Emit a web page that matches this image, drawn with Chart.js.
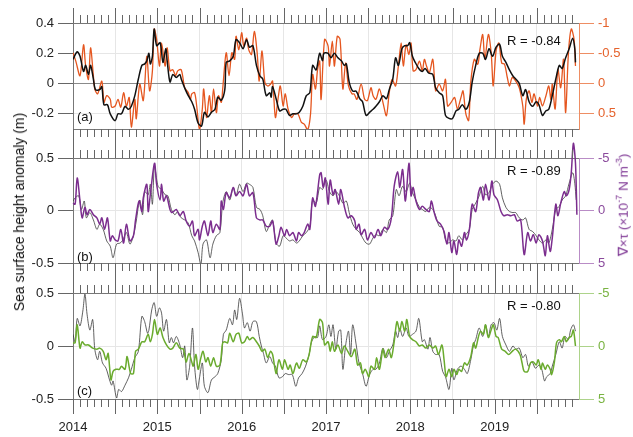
<!DOCTYPE html>
<html lang="en">
<head>
<meta charset="UTF-8">
<script src="https://cdn.jsdelivr.net/npm/chart.js@4.4.0/dist/chart.umd.min.js"></script>
<style>
  body { margin: 0; background: #fff; width: 633px; height: 437px; overflow: hidden; position: relative;
         font-family: "Liberation Sans", Arial, sans-serif; }
  .panel { position: absolute; left: 0; width: 633px; }
  .txt { position: absolute; font-size: 13px; color: #111; white-space: nowrap; transform: translate(0, -50%); }
  .rot { position: absolute; white-space: nowrap; transform: translate(-50%, -50%) rotate(-90deg); }
</style>
</head>
<body>
<div class="panel" style="top:0;height:145px"><canvas id="chart-a"></canvas></div>
<div class="panel" style="top:140px;height:145px"><canvas id="chart-b"></canvas></div>
<div class="panel" style="top:275px;height:162px"><canvas id="chart-c"></canvas></div>

<div class="rot" style="left:19px;top:212px;font-size:14px;color:#111">Sea surface height anomaly (m)</div>
<div class="rot" style="left:622px;top:205px;font-size:13.5px;color:#7d3593">&nabla;&times;&tau; (&times;10<sup style="font-size:9px">-7</sup> N m<sup style="font-size:9px">-3</sup>)</div>

<div class="txt" style="left:77px;top:116px">(a)</div>
<div class="txt" style="left:77px;top:256px">(b)</div>
<div class="txt" style="left:77px;top:390px">(c)</div>
<div class="txt" style="left:507px;top:40px">R = -0.84</div>
<div class="txt" style="left:507px;top:170px">R = -0.89</div>
<div class="txt" style="left:507px;top:305px">R = -0.80</div>

<script>
// x = months since Jan 2014
var firstYear = 2014;
var monthsShown = 72;

// tick labels
var yTicksA = [-0.2, 0, 0.2, 0.4];
var rTicksA = [-1, -0.5, 0, 0.5];
var yTicksBC = [-0.5, 0, 0.5];
var rTicksBC = [-5, 0, 5];

// (a) sea surface height (m) and curl (right axis, reversed)
var sshA = [[0,0.16],[0.6,0.21],[1,0.18],[1.5,0.08],[1.8,0.12],[2.2,0.06],[2.5,0.12],[2.9,0.03],[3.2,-0.04],[3.8,-0.04],[4.1,-0.02],[4.4,-0.14],[4.9,-0.14],[5.3,-0.2],[6,-0.245],[6.4,-0.2],[6.9,-0.2],[7.4,-0.15],[7.9,-0.17],[8.3,-0.15],[8.8,-0.08],[9.3,0.03],[9.8,0.12],[10.2,0.13],[10.5,0.15],[10.8,0.2],[11,0.13],[11.3,0.18],[11.55,0.36],[11.9,0.25],[12.4,0.27],[12.8,0.14],[13.2,0.23],[13.4,0.15],[13.8,0.01],[14.2,0.06],[14.7,0.04],[15.2,0.06],[15.4,0.03],[15.9,-0.03],[16.4,-0.08],[16.9,-0.12],[17.3,-0.17],[17.8,-0.26],[18.3,-0.28],[18.7,-0.19],[19.2,-0.22],[19.7,-0.19],[20.2,-0.17],[20.6,-0.09],[21.1,-0.11],[21.6,-0.04],[21.8,0.14],[22.3,0.15],[22.8,0.18],[23.2,0.29],[23.7,0.27],[24.2,0.23],[24.7,0.29],[25.1,0.24],[25.6,0.25],[26.1,0.12],[26.6,0.05],[27,0.03],[27.5,-0.08],[28,-0.06],[28.2,-0.09],[28.4,-0.02],[28.9,-0.1],[29.4,-0.18],[29.9,-0.17],[30.3,-0.17],[30.8,-0.21],[31.3,-0.2],[31.8,-0.2],[32.2,-0.19],[32.7,-0.15],[33.2,-0.08],[33.7,-0.06],[34.1,0.12],[34.6,0.09],[35.1,0.2],[35.5,0.15],[35.7,0.2],[36.3,0.2],[36.7,0.17],[37.2,0.2],[37.7,0.17],[38.2,0.15],[38.6,0.12],[38.9,0.13],[39.3,0.01],[39.8,-0.05],[40.3,-0.05],[40.8,-0.1],[41.2,-0.12],[41.7,-0.21],[42.2,-0.19],[42.7,-0.17],[43.1,-0.15],[43.6,-0.12],[44.1,-0.08],[44.6,-0.1],[45,-0.04],[45.5,0.03],[45.9,0.17],[46.3,0.12],[46.8,0.23],[47.2,0.25],[47.6,0.25],[47.9,0.27],[48.3,0.18],[48.7,0.14],[49.2,0.1],[49.7,0.08],[50.1,0.1],[50.6,0.07],[51.2,0.06],[51.6,-0.03],[52.1,-0.06],[52.6,-0.08],[53,-0.21],[53.5,-0.23],[54,-0.23],[54.5,-0.18],[54.9,-0.17],[55.4,-0.14],[55.9,-0.17],[56.4,-0.12],[56.8,0.01],[57.3,0.12],[57.8,0.2],[58.3,0.2],[58.7,0.16],[59.2,0.23],[59.7,0.18],[60.2,0.24],[60.7,0.26],[61.1,0.18],[61.6,0.14],[62.1,0.09],[62.6,0.05],[63,0.03],[63.5,0],[64,-0.08],[64.4,-0.04],[64.9,-0.12],[65.4,-0.15],[65.9,-0.12],[66.3,-0.14],[66.8,-0.21],[67.3,-0.18],[67.7,-0.17],[68.2,-0.08],[68.7,0.03],[69.2,0.12],[69.6,0.1],[70.1,0.17],[70.6,0.23],[71.1,0.3],[71.4,0.23],[71.5,0.14]];
var curlA = [[0,-0.51],[0.4,-0.37],[1,-0.13],[1.5,-0.64],[1.8,-0.29],[2.2,-0.07],[2.5,-0.59],[2.9,-0.13],[3.1,0.09],[3.5,0.17],[4.1,-0.04],[4.4,0.31],[4.8,0.2],[5.3,0.26],[5.5,0.39],[6,0.37],[6.4,0.26],[6.8,0.39],[7.2,0.15],[7.6,0.37],[8,0.23],[8.3,0.72],[8.8,0.26],[9,0.58],[9.5,0.01],[10,0.28],[10.5,-0.45],[10.9,0.12],[11.3,-0.21],[11.55,-0.9],[11.9,-0.73],[12.3,-0.29],[12.6,-0.67],[13.1,-0.29],[13.4,-0.59],[13.8,-0.21],[14.2,-0.23],[14.6,-0.13],[14.9,-0.21],[15.4,-0.23],[15.9,0.07],[16.4,0.15],[16.7,0.26],[16.9,0.17],[17.3,0.15],[17.6,0.37],[18,0.76],[18.4,0.42],[18.6,0.09],[19,0.56],[19.4,0.2],[19.7,0.48],[20,0.09],[20.4,0.48],[20.7,0.2],[21.1,0.31],[21.3,0.09],[21.8,-0.51],[22.2,-0.13],[22.6,-0.51],[23,-0.4],[23.2,-0.78],[23.6,-0.56],[24,-0.84],[24.3,-0.62],[24.7,-0.75],[25,-0.56],[25.4,-0.48],[25.8,-0.86],[26.2,-0.51],[26.5,-0.04],[26.9,-0.54],[27.3,-0.02],[27.7,0.04],[28.1,0.01],[28.4,-0.04],[28.8,0.56],[29.2,0.23],[29.5,0.04],[29.9,0.37],[30.2,0.17],[30.6,0.42],[31.1,0.56],[31.5,0.5],[32,0.5],[32.5,0.64],[32.9,0.67],[33.4,0.76],[33.8,0.5],[34.1,-0.15],[34.5,0.09],[34.8,-0.23],[35.1,-0.37],[35.3,0.26],[35.8,-0.73],[36.3,-0.62],[36.5,-0.29],[36.9,-0.7],[37.2,-0.29],[37.6,-0.78],[38,-0.73],[38.4,0.09],[38.8,-0.34],[39.2,0.04],[39.7,0.17],[40,0.17],[40.4,0.26],[41,0.01],[41.5,0.26],[41.9,0.28],[42.4,0.07],[42.7,0.2],[43.1,0.26],[43.6,0.09],[44.1,0.31],[44.6,0.53],[45,0.15],[45.4,-0.07],[45.9,0.04],[46.3,-0.29],[46.7,-0.67],[47,-0.29],[47.4,-0.64],[47.8,-0.48],[48.1,-0.67],[48.4,-0.21],[48.8,-0.23],[49.3,-0.37],[49.7,-0.21],[50,-0.4],[50.3,-0.29],[50.7,-0.18],[51.2,-0.4],[51.6,0.12],[52.1,0.01],[52.6,0.12],[53,-0.07],[53.3,0.37],[53.8,0.31],[54.3,0.23],[54.7,0.42],[55.2,0.23],[55.5,0.12],[55.9,0.5],[56.3,0.61],[56.6,-0.02],[57.1,-0.4],[57.6,-0.32],[57.9,-0.56],[58.3,-0.81],[58.6,-0.4],[59.1,-0.81],[59.5,-0.51],[59.8,0.04],[60.2,-0.54],[60.6,-0.67],[61,-0.34],[61.4,-0.32],[61.8,-0.1],[62.1,0.04],[62.5,-0.1],[63,-0.04],[63.5,0.07],[64,0.37],[64.2,0.67],[64.5,0.26],[64.9,0.12],[65.3,0.31],[65.6,0.17],[66.1,0.37],[66.4,0.23],[66.8,0.37],[67.3,0.2],[67.7,0.04],[68,0.26],[68.2,0.01],[68.6,0.42],[69,-0.23],[69.4,0.07],[69.8,-0.4],[70.1,0.48],[70.5,-0.51],[70.9,-0.9],[71.3,-0.73],[71.5,-0.29]];

// (b)
var sshB = [[0,0.09],[0.3,0.12],[0.8,0.14],[1.2,0.01],[1.6,0.09],[1.9,-0.07],[2.4,-0.02],[2.9,-0.09],[3.4,-0.18],[3.8,-0.13],[4.3,-0.18],[4.8,-0.29],[5.3,-0.34],[5.7,-0.45],[6.2,-0.32],[6.7,-0.31],[7.1,-0.28],[7.6,-0.21],[8.1,-0.32],[8.6,-0.24],[9,-0.1],[9.5,0.1],[9.9,-0.04],[10.2,0.18],[10.7,0.15],[11,0.25],[11.3,0.06],[11.6,0.42],[12.1,0.23],[12.6,0.2],[13.1,0.15],[13.5,0.14],[14,0.01],[14.5,-0.04],[14.9,-0.01],[15.4,-0.07],[15.9,-0.09],[16.4,-0.12],[16.9,-0.24],[17.3,-0.29],[17.8,-0.4],[18.2,-0.51],[18.5,-0.32],[19,-0.28],[19.5,-0.45],[19.9,-0.32],[20.4,-0.24],[20.9,-0.21],[21.3,0.07],[21.8,0.18],[22.3,0.1],[22.8,0.22],[23.2,0.14],[23.7,0.25],[24.2,0.18],[24.7,0.26],[25.1,0.25],[25.6,0.22],[26.1,0.03],[26.6,0.01],[27,-0.05],[27.5,-0.2],[28,-0.13],[28.4,-0.09],[28.9,-0.31],[29.4,-0.34],[29.9,-0.24],[30.3,-0.26],[30.8,-0.29],[31.3,-0.28],[31.8,-0.31],[32.2,-0.29],[32.7,-0.24],[33.2,-0.21],[33.7,-0.15],[34.1,0.1],[34.6,0.07],[35.1,0.22],[35.5,0.2],[36,0.29],[36.5,0.18],[37,0.14],[37.4,0.18],[37.9,0.14],[38.4,0.07],[38.9,0.09],[39.3,-0.02],[39.8,-0.13],[40.3,-0.18],[40.8,-0.21],[41.2,-0.26],[41.7,-0.31],[42.2,-0.32],[42.7,-0.26],[43.1,-0.23],[43.6,-0.24],[44.1,-0.18],[44.6,-0.21],[45,-0.09],[45.5,-0.05],[46,0.2],[46.4,0.14],[46.9,0.23],[47.4,0.18],[47.9,0.26],[48.3,0.17],[48.8,0.1],[49.3,0.03],[49.7,0.01],[50.2,-0.01],[50.7,0.03],[51.2,0.01],[51.6,-0.05],[52.1,-0.15],[52.6,-0.16],[53,-0.28],[53.5,-0.31],[54,-0.28],[54.5,-0.29],[54.9,-0.24],[55.4,-0.28],[55.9,-0.23],[56.4,-0.18],[56.8,0.01],[57.3,0.07],[57.8,0.14],[58.3,0.23],[58.7,0.15],[59.2,0.17],[59.7,0.25],[60.2,0.28],[60.7,0.25],[61.1,0.12],[61.6,0.03],[62.1,-0.01],[62.6,-0.02],[63,-0.02],[63.5,-0.07],[64,-0.09],[64.4,-0.07],[64.9,-0.18],[65.4,-0.2],[65.9,-0.24],[66.3,-0.28],[66.8,-0.31],[67.3,-0.28],[67.7,-0.31],[68.2,-0.18],[68.7,0.01],[69.2,0.04],[69.6,0.1],[70.1,0.14],[70.6,0.26],[71.1,0.36],[71.4,0.26],[71.6,0.1]];
var curlB = [[0,-0.7],[0.3,-0.6],[0.6,-3.1],[1,-0.9],[1.3,0.7],[1.7,-0.3],[2,0.4],[2.4,-0.1],[2.9,0.4],[3.4,0.7],[3.8,1.3],[4.1,0.7],[4.5,1.8],[4.9,0.7],[5.3,2.9],[5.6,2.4],[6,2.8],[6.4,2.9],[6.8,1.8],[7.2,3.1],[7.6,1.3],[8.1,2.9],[8.6,2.4],[8.9,0.9],[9.4,-0.9],[9.8,0.1],[10,-1.2],[10.5,-2.5],[10.7,0.1],[11,-1.5],[11.6,-4.5],[11.9,-2.5],[12.4,-1],[12.6,-2.5],[12.9,-0.9],[13.3,-1.4],[13.8,-0.1],[14.1,0.2],[14.7,-0.1],[15.2,0.5],[15.7,0.1],[16.1,1],[16.6,1.5],[17,1],[17.3,2.4],[17.8,1.8],[18,2.8],[18.4,1.5],[18.7,1],[19.2,2.4],[19.6,1],[19.9,2.1],[20.4,1.3],[20.9,1.8],[21.1,-0.9],[21.4,-0.1],[21.8,-1.7],[22.3,-1.2],[22.8,-2.2],[23.2,-1.4],[23.7,-1.8],[24.2,-1.4],[24.7,-2.5],[25.1,-1.4],[25.6,-1.7],[26.1,0.7],[26.6,0.9],[27,0.9],[27.5,1.5],[28,1.5],[28.4,1],[28.9,3.2],[29.3,2.4],[29.6,1.6],[30.1,2.4],[30.4,1.8],[30.8,2.4],[31.3,2.1],[31.8,2.9],[32.1,2.1],[32.5,2.4],[32.9,2.1],[33.4,1.3],[33.7,1.8],[34.1,-1.2],[34.5,-0.4],[35.1,-3.4],[35.3,-3.6],[35.6,-2.2],[35.9,-3.1],[36.3,-0.6],[36.6,-2.9],[37,-1.5],[37.3,-2],[37.8,-0.6],[38.1,-2],[38.6,-0.4],[39.1,0.7],[39.6,0.5],[40.1,1],[40.3,1.8],[40.7,1.3],[41,2.3],[41.5,1.8],[41.9,2.8],[42.4,2.1],[42.9,2.6],[43.4,1.8],[43.8,2.4],[44.3,1.6],[44.8,1.8],[45.3,0.7],[45.7,-2.3],[46.2,-3.7],[46.5,-2.2],[46.9,-3.9],[47.3,-0.9],[47.8,-4.5],[48.1,-1.4],[48.4,-2.2],[48.8,-0.9],[49.3,-0.1],[49.7,-0.4],[50.2,-0.1],[50.7,0.1],[51,-0.9],[51.4,0.2],[51.8,1],[52.3,1.3],[52.8,2],[53.2,3.2],[53.5,2.1],[53.9,4],[54.2,2.9],[54.6,4.2],[54.9,2.8],[55.3,3.4],[55.7,2.1],[56,2.8],[56.4,1.8],[56.8,-0.6],[57.3,0.1],[57.7,-1.7],[58,-2.2],[58.4,-1],[58.7,-2.5],[59.2,-1],[59.6,-2.8],[59.9,-1.5],[60.4,-1],[60.9,0.1],[61.3,0.5],[61.8,0.4],[62.3,0.5],[62.8,0.4],[63.2,1],[63.7,0.9],[64.2,4.2],[64.7,2.1],[65.1,2.9],[65.5,2.3],[65.9,3.1],[66.3,2.3],[66.8,2.9],[67.2,4.3],[67.5,2.4],[67.9,3.9],[68.2,2.6],[68.7,-0.6],[69,0.5],[69.4,-0.7],[69.9,-1.8],[70.2,-1.4],[70.6,-2],[70.9,-3.6],[71.2,-6.4],[71.5,-4.5],[71.7,0.4]];

// (c)
var sshC = [[0,0.11],[0.3,0.04],[0.6,0.26],[1,0.19],[1.4,0.33],[1.7,0.49],[2,0.3],[2.4,0.15],[2.8,0.25],[3.1,-0.03],[3.5,-0.13],[3.8,-0.05],[4.2,-0.16],[4.7,-0.21],[5.2,-0.32],[5.5,-0.37],[5.7,-0.33],[6.2,-0.49],[6.5,-0.41],[6.9,-0.43],[7.4,-0.37],[7.9,-0.3],[8.3,-0.22],[8.8,-0.11],[9.3,-0.05],[9.8,0.28],[10.2,0.23],[10.6,0.12],[10.8,0.15],[11.2,0.34],[11.55,0.41],[11.9,0.28],[12.3,0.36],[12.6,0.31],[12.9,0.14],[13.3,0.25],[13.7,0.03],[14,0.08],[14.3,0.03],[14.7,0.09],[15.2,0.01],[15.6,-0.11],[15.9,0],[16.2,-0.32],[16.6,-0.19],[17,0.17],[17.3,-0.19],[17.7,-0.41],[18,-0.3],[18.4,-0.16],[18.7,-0.38],[19.2,-0.44],[19.7,-0.32],[20.2,-0.29],[20.6,-0.26],[21.1,-0.13],[21.4,0.11],[21.8,0.15],[22.3,0.26],[22.7,0.2],[23,0.34],[23.3,0.25],[23.7,0.45],[24.1,0.31],[24.4,0.17],[24.8,0.22],[25.2,0.14],[25.6,0.23],[26.1,0.23],[26.5,0.09],[26.8,0],[27.1,-0.07],[27.5,-0.16],[28,-0.1],[28.4,-0.16],[28.8,-0.19],[29.3,-0.3],[29.8,-0.29],[30.2,-0.26],[30.7,-0.27],[31.2,-0.27],[31.7,-0.38],[32.1,-0.3],[32.6,-0.26],[33.1,-0.19],[33.6,-0.08],[33.9,0.03],[34.4,0.09],[34.8,0.08],[35.1,0.19],[35.5,0.06],[36,0.09],[36.4,0.2],[36.7,0.09],[37,0.2],[37.4,-0.03],[37.8,0.14],[38.1,0.15],[38.4,-0.22],[38.8,0.01],[39.2,0.14],[39.5,-0.08],[39.8,0.2],[40.3,0.01],[40.7,-0.16],[41.2,-0.26],[41.7,-0.38],[42.2,-0.27],[42.7,-0.22],[43.1,-0.22],[43.6,-0.16],[44.1,-0.02],[44.6,-0.11],[45,-0.05],[45.5,0.01],[45.9,0.14],[46.2,0.08],[46.5,0.17],[46.9,0.09],[47.4,0.17],[47.8,0.09],[48.3,0.11],[48.8,0.14],[49.2,0.26],[49.7,0.04],[50,0.06],[50.5,-0.03],[50.8,0.08],[51.2,-0.05],[51.6,-0.08],[52.1,-0.08],[52.6,-0.24],[53,-0.29],[53.5,-0.41],[53.9,-0.21],[54.2,-0.32],[54.7,-0.22],[55.2,-0.19],[55.7,-0.22],[56.1,-0.26],[56.6,-0.13],[57,0.01],[57.3,0.06],[57.8,0.17],[58.3,0.09],[58.7,0.2],[59.1,0.09],[59.5,0.2],[59.9,0.22],[60.3,0.15],[60.7,0.26],[61.1,0.09],[61.6,0.01],[62.1,-0.05],[62.6,0],[63,-0.03],[63.5,-0.02],[64,-0.11],[64.4,-0.08],[64.8,-0.19],[65.3,-0.15],[65.8,-0.21],[66.3,-0.18],[66.7,-0.22],[67.1,-0.33],[67.4,-0.29],[67.9,-0.26],[68.2,-0.19],[68.7,-0.08],[69.2,0.04],[69.6,-0.02],[70,0.09],[70.5,0.06],[70.8,0.15],[71.2,0.2],[71.5,0.14]];
var curlC = [[0,-0.3],[0.3,-0.3],[0.6,-2],[1,0.2],[1.3,-0.4],[1.7,-0.1],[2.2,-0.1],[2.8,0.2],[3.4,0.3],[3.8,0.2],[4.3,0.5],[4.7,1.3],[5,0.7],[5.4,3.2],[5.7,2.4],[6.1,2.2],[6.6,2.2],[6.9,1.9],[7.4,2.2],[7.7,1],[8.2,2.6],[8.6,2.6],[8.9,0.5],[9.3,0.3],[9.8,-0.4],[10.2,-0.4],[10.7,-1.1],[11,-0.4],[11.3,-1.1],[11.6,-2.5],[12,-1.1],[12.4,-1.7],[12.8,-0.8],[13.3,-0.1],[13.8,0.3],[14.2,0.2],[14.7,-0.3],[15.2,0.2],[15.7,0.3],[16.1,1.5],[16.5,0.7],[16.9,1.5],[17.1,1.9],[17.5,0.8],[17.8,2.2],[18.2,1.1],[18.5,0.5],[18.9,1.5],[19.2,1.1],[19.6,1.9],[20,1.1],[20.4,1.9],[20.9,1.8],[21.3,-0.3],[21.6,-0.4],[22,-0.3],[22.3,-1.2],[22.8,-0.4],[23.2,-1.1],[23.6,-1.2],[24,-0.3],[24.4,-0.4],[24.8,-0.9],[25.1,-0.6],[25.6,-0.8],[26.1,-0.4],[26.5,0],[26.9,0.5],[27.3,0.3],[27.7,1.1],[28.1,0.5],[28.4,0.8],[28.9,2.6],[29.3,1.3],[29.8,2.2],[30.1,1.3],[30.6,2.2],[30.9,1.8],[31.3,2.6],[31.8,1.6],[32.2,2.1],[32.7,1.3],[33.2,1.5],[33.6,0.8],[34.1,-0.9],[34.6,-0.8],[35.1,-2.5],[35.5,-2.2],[35.8,-0.1],[36.3,-0.4],[36.6,0.5],[36.9,-0.4],[37.2,0.5],[37.7,-0.1],[38.2,0.7],[38.6,0],[39.1,0.5],[39.6,1],[40.1,0.3],[40.5,1.8],[40.9,1.6],[41.2,2.6],[41.6,2.2],[42.1,2.9],[42.4,1.9],[42.9,2.2],[43.2,1.1],[43.6,2.2],[44.1,0.3],[44.4,1.1],[44.9,0.3],[45.3,1.1],[45.7,-0.4],[46.1,-2.3],[46.5,-1.4],[46.8,-2.3],[47.2,-1.4],[47.5,-2.5],[47.9,-0.9],[48.3,-0.6],[48.8,-0.4],[49.3,0],[49.7,-0.1],[50.2,0.2],[50.7,-0.1],[51.2,0.2],[51.6,0],[52,0.8],[52.5,-0.1],[52.8,1.3],[53.1,2.9],[53.5,2.2],[53.9,2.9],[54.2,2.2],[54.6,2.7],[54.9,2.2],[55.3,2.4],[55.7,1.6],[56.1,1.8],[56.6,1],[57,-0.3],[57.3,0.2],[57.7,-0.9],[58,-1.4],[58.4,-1.1],[58.7,-2],[59.1,-0.8],[59.5,-1.5],[59.8,-2],[60.2,-0.9],[60.5,-0.8],[61,0.3],[61.5,0.5],[62,0.8],[62.5,0.5],[63,0.3],[63.6,0.8],[63.9,1.6],[64.2,2.4],[64.7,2.4],[65.1,1.6],[65.5,1.5],[65.9,1.8],[66.2,1.3],[66.6,2.2],[66.8,1.6],[67.2,2.2],[67.5,1.8],[67.9,2.2],[68.1,2.7],[68.5,1.5],[68.8,-0.3],[69.2,-0.6],[69.5,-0.4],[69.9,-0.9],[70.2,-0.4],[70.6,-0.8],[70.9,-0.9],[71.2,-1.5],[71.5,0]];

Chart.defaults.font.family = '"Liberation Sans", Arial, sans-serif';
Chart.defaults.font.size = 13;

function pts(arr) {
  return arr.map(function (p) { return { x: p[0], y: p[1] }; });
}

// month tick marks above and below each panel (half-years long)
var edgeTicks = {
  id: 'edgeTicks',
  afterDraw: function (chart) {
    var xs = chart.scales.x, a = chart.chartArea, c = chart.ctx;
    c.save();
    c.strokeStyle = '#666';
    c.lineWidth = 1;
    c.beginPath();
    for (var m = 0; m < monthsShown; m++) {
      var px = Math.round(xs.getPixelForValue(m)) + 0.5;
      var len = m % 6 === 0 ? 15 : 8;
      c.moveTo(px, a.top - len); c.lineTo(px, a.top);
      c.moveTo(px, a.bottom); c.lineTo(px, a.bottom + len);
    }
    c.stroke();
    c.restore();
  }
};

function panel(id, o) {
  return new Chart(document.getElementById(id), {
    type: 'line',
    data: { datasets: o.datasets },
    options: {
      animation: false,
      responsive: true,
      maintainAspectRatio: false,
      layout: { padding: { top: o.padTop, left: 0, right: 0, bottom: 0 } },
      plugins: { legend: { display: false }, tooltip: { enabled: false } },
      elements: { point: { radius: 0 }, line: { tension: 0.3 } },
      scales: {
        x: {
          type: 'linear', min: 0, max: monthsShown,
          ticks: {
            display: o.years, stepSize: 1, autoSkip: false, maxRotation: 0, minRotation: 0,
            padding: 21, color: '#222',
            callback: function (v) { return (v % 12 === 0 && v < monthsShown) ? String(firstYear + v / 12) : ''; }
          },
          grid: {
            drawTicks: false,
            color: function (c) { return c.tick.value % 6 === 0 ? '#e6e6e6' : 'rgba(0,0,0,0)'; }
          },
          border: { display: true, color: '#777' },
          afterFit: function (s) { s.height = o.xHeight; }
        },
        y: {
          position: 'left', min: o.yMin, max: o.yMax,
          afterBuildTicks: function (s) { s.ticks = o.yTicks.map(function (v) { return { value: v }; }); },
          ticks: { color: '#222', padding: 4, callback: function (v) { return String(v); } },
          grid: {
            tickLength: 15, tickColor: '#666',
            color: function (c) {
              var v = c.tick.value;
              if (v === o.yMax || v === o.yMin) return '#777';
              if (v === 0 && o.darkZero) return '#8a8a8a';
              return '#e6e6e6';
            }
          },
          border: { display: true, color: '#777' },
          afterFit: function (s) { s.width = 73; }
        },
        y2: {
          position: 'right', reverse: true, min: o.rMin, max: o.rMax,
          afterBuildTicks: function (s) { s.ticks = o.rTicks.map(function (v) { return { value: v }; }); },
          ticks: { color: o.labelColor, padding: 4, callback: function (v) { return String(v); } },
          grid: { drawOnChartArea: false, tickLength: 15, tickColor: o.axisColor },
          border: { display: true, color: o.axisColor },
          afterFit: function (s) { s.width = 54; }
        }
      }
    },
    plugins: [edgeTicks]
  });
}

panel('chart-a', {
  padTop: 23, xHeight: 16, years: false, darkZero: true,
  yMin: -0.3, yMax: 0.4, yTicks: yTicksA,
  rMin: -1, rMax: 0.75, rTicks: rTicksA,
  labelColor: '#e5622c', axisColor: '#ee8d63',
  datasets: [
    { data: pts(sshA), yAxisID: 'y', borderColor: '#111', borderWidth: 1.5 },
    { data: pts(curlA), yAxisID: 'y2', borderColor: '#e5561f', borderWidth: 1.3 }
  ]
});

panel('chart-b', {
  padTop: 18, xHeight: 22, years: false, darkZero: false,
  yMin: -0.5, yMax: 0.5, yTicks: yTicksBC,
  rMin: -5, rMax: 5, rTicks: rTicksBC,
  labelColor: '#8a4a9c', axisColor: '#b98cc6',
  datasets: [
    { data: pts(curlB), yAxisID: 'y2', borderColor: '#7b2d8e', borderWidth: 1.5, clip: false },
    { data: pts(sshB), yAxisID: 'y', borderColor: '#3a3a3a', borderWidth: 0.8 }
  ]
});

panel('chart-c', {
  padTop: 18, xHeight: 38, years: true, darkZero: false,
  yMin: -0.5, yMax: 0.5, yTicks: yTicksBC,
  rMin: -5, rMax: 5, rTicks: rTicksBC,
  labelColor: '#79b341', axisColor: '#add38a',
  datasets: [
    { data: pts(curlC), yAxisID: 'y2', borderColor: '#6aab2e', borderWidth: 1.5 },
    { data: pts(sshC), yAxisID: 'y', borderColor: '#3a3a3a', borderWidth: 0.8 }
  ]
});
</script>
</body>
</html>
